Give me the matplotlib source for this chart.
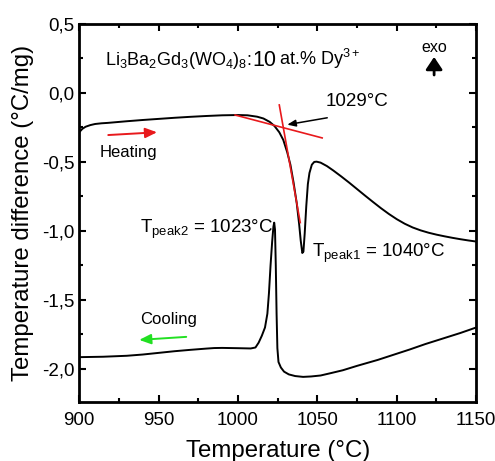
import matplotlib
matplotlib.use("Agg")
import matplotlib.pyplot as plt
from matplotlib.ticker import MultipleLocator, FuncFormatter

plt.rcParams['font.family'] = ['Liberation Sans', 'DejaVu Sans']
plt.rcParams['mathtext.fontset'] = 'custom'
plt.rcParams['mathtext.rm'] = 'Liberation Sans'
plt.rcParams['mathtext.it'] = 'Liberation Sans:italic'
plt.rcParams['mathtext.default'] = 'regular'

# ---- data ----
heat_T = [900, 902, 904, 907, 910, 914, 918, 930, 940, 950, 960, 970, 980, 990,
          1000, 1006, 1012, 1016, 1020, 1023, 1026, 1028.5, 1031, 1033, 1035,
          1037, 1038.5, 1039.5, 1040.5, 1041.2, 1042, 1043, 1044, 1045, 1046.5,
          1048, 1049.5, 1052, 1056, 1060, 1065, 1070, 1075, 1080, 1085, 1090,
          1095, 1100, 1105, 1110, 1115, 1120, 1125, 1130, 1135, 1140, 1145, 1150]
heat_dT = [-0.285, -0.26, -0.245, -0.233, -0.225, -0.22, -0.217, -0.205, -0.196,
           -0.188, -0.18, -0.173, -0.167, -0.162, -0.16, -0.162, -0.172, -0.185,
           -0.21, -0.24, -0.285, -0.34, -0.43, -0.52, -0.65, -0.80, -0.95, -1.07,
           -1.16, -1.15, -1.02, -0.82, -0.66, -0.58, -0.52, -0.50, -0.498, -0.505,
           -0.53, -0.562, -0.605, -0.65, -0.697, -0.744, -0.79, -0.835, -0.877,
           -0.915, -0.948, -0.975, -0.996, -1.013, -1.027, -1.039, -1.05, -1.06,
           -1.069, -1.077]

cool_T = [900, 915, 930, 940, 950, 960, 970, 980, 985, 990, 1000, 1008, 1011,
          1013, 1015, 1017, 1018.5, 1019.5, 1020.5, 1021.5, 1022.3, 1022.8,
          1023.3, 1023.8, 1024.3, 1024.8, 1025.5, 1027, 1029, 1032, 1036, 1041,
          1046, 1052, 1058, 1066, 1075, 1088, 1100, 1108, 1118, 1129, 1140, 1150]
cool_dT = [-1.915, -1.912, -1.905, -1.896, -1.884, -1.872, -1.862, -1.853, -1.849,
           -1.848, -1.85, -1.852, -1.845, -1.81, -1.76, -1.70, -1.60, -1.45,
           -1.25, -1.08, -0.97, -0.94, -0.99, -1.25, -1.60, -1.85, -1.95, -1.99,
           -2.02, -2.04, -2.052, -2.058, -2.055, -2.048, -2.032, -2.01, -1.978,
           -1.935, -1.89, -1.86, -1.82, -1.78, -1.74, -1.70]

tangent1_T = [998.2, 1053.0]
tangent1_dT = [-0.16, -0.326]
tangent2_T = [1026.0, 1039.2]
tangent2_dT = [-0.087, -0.94]

onset_T = 1029
peak1_T = 1040
peak2_T = 1023

xticks = [900, 950, 1000, 1050, 1100, 1150]
yticks = [0.5, 0.0, -0.5, -1.0, -1.5, -2.0]

# ---- figure ----
fig = plt.figure(figsize=(4.95, 4.61), dpi=100)
ax = fig.add_axes([0.160, 0.128, 0.802, 0.820])

ax.plot(heat_T, heat_dT, color='black', lw=1.4)
ax.plot(cool_T, cool_dT, color='black', lw=1.4)
ax.plot(tangent1_T, tangent1_dT, color='#e8191c', lw=1.2)
ax.plot(tangent2_T, tangent2_dT, color='#e8191c', lw=1.2)

ax.set_xlim(900, 1150)
ax.set_ylim(-2.24, 0.5)
ax.set_xticks(xticks)
ax.set_yticks(yticks)
ax.xaxis.set_minor_locator(MultipleLocator(25))
ax.yaxis.set_minor_locator(MultipleLocator(0.25))
ax.yaxis.set_major_formatter(FuncFormatter(lambda v, p: f"{v:.1f}".replace('.', ',')))
ax.tick_params(which='both', direction='in', top=True, right=True, labelsize=13.5, width=1.5)
ax.tick_params(which='major', length=5)
ax.tick_params(which='minor', length=3)
ax.tick_params(axis='x', pad=7)
for s in ax.spines.values():
    s.set_linewidth(2)

ax.set_xlabel('Temperature (°C)', fontsize=17.3, labelpad=8)
ax.set_ylabel('Temperature difference (°C/mg)', fontsize=17.3, labelpad=6)

# composition label
t1 = ax.text(916.4, 0.205, 'Li$_3$Ba$_2$Gd$_3$(WO$_4$)$_8$:', fontsize=13, va='baseline', ha='left')
t2 = ax.annotate('10', xy=(1, 0), xycoords=t1, xytext=(0, 0), textcoords='offset points',
                 fontsize=15.5, va='bottom', ha='left')
t3 = ax.annotate('at.% Dy$^{3+}$', xy=(1, 0), xycoords=t2, xytext=(2, 0), textcoords='offset points',
                 fontsize=13, va='bottom', ha='left')

ax.text(1123.5, 0.326, 'exo', fontsize=11.5, ha='center', va='center')
ax.annotate('', xy=(1123.5, 0.261), xytext=(1123.5, 0.13),
            arrowprops=dict(arrowstyle='-|>,head_width=0.5,head_length=0.75',
                            color='black', lw=2, shrinkA=0, shrinkB=0))

ax.text(1055, -0.065, f'{onset_T}°C', fontsize=13.5, ha='left', va='center')
ax.annotate('', xy=(1031, -0.23), xytext=(1056.2, -0.18),
            arrowprops=dict(arrowstyle='-|>,head_width=0.2,head_length=0.5', color='black', lw=1.1,
                            shrinkA=0, shrinkB=0))

ax.text(913, -0.435, 'Heating', fontsize=12, ha='left', va='center')
ax.annotate('', xy=(949, -0.285), xytext=(918.3, -0.305),
            arrowprops=dict(arrowstyle='-|>,head_width=0.3,head_length=0.7', color='#e8191c', lw=1.4,
                            shrinkA=0, shrinkB=0))

ax.text(938.4, -1.64, 'Cooling', fontsize=12, ha='left', va='center')
ax.annotate('', xy=(937.8, -1.79), xytext=(967.4, -1.768),
            arrowprops=dict(arrowstyle='-|>,head_width=0.3,head_length=0.7', color='#22e022', lw=1.4,
                            shrinkA=0, shrinkB=0))

ax.text(938.4, -0.99, f'T$_{{peak2}}$ = {peak2_T}°C', fontsize=13.5, ha='left', va='center')
ax.text(1046.7, -1.16, f'T$_{{peak1}}$ = {peak1_T}°C', fontsize=13.5, ha='left', va='center')

fig.savefig('out.png', dpi=100)
